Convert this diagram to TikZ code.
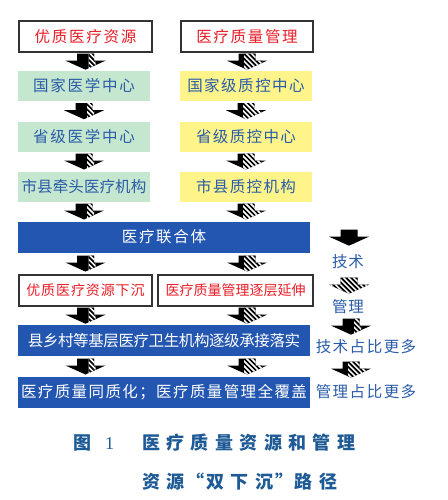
\documentclass[tikz,border=0pt]{standalone}
\usepackage{fontspec}
\usetikzlibrary{calc}
\newfontfamily\cjk{Noto Sans CJK SC}
\newlength\cjkgap
\makeatletter
\count@="4E00
\loop
  \XeTeXcharclass\count@=10
  \advance\count@ by 1
\ifnum\count@<"A000 \repeat
\makeatother
\XeTeXcharclass"FF1B=10
\XeTeXinterchartoks 10 10 {\hskip\cjkgap\relax}
\XeTeXinterchartokenstate=1
\newcommand\gaptext[2]{\setlength\cjkgap{#1}#2}
\definecolor{cgreen}{RGB}{197,230,207}
\definecolor{cyellow}{RGB}{254,244,138}
\definecolor{cblue}{RGB}{35,86,176}
\definecolor{ctext}{RGB}{42,92,168}
\definecolor{cred}{RGB}{232,30,40}
\definecolor{ccap}{RGB}{30,90,150}
\begin{document}
\begin{tikzpicture}[x=1pt,y=1pt,
  base/.style={inner sep=0pt, font=\cjk\fontsize{15.5}{16}\selectfont},
  redbox/.style={base, draw=black!80, line width=1.2pt, fill=white, text=cred, minimum height=31pt},
  greenbox/.style={base, fill=cgreen, text=ctext, minimum width=132pt, minimum height=30pt},
  yellowbox/.style={base, fill=cyellow, text=ctext, minimum width=132pt, minimum height=30pt},
  bluebox/.style={base, fill=cblue, text=white, minimum width=292pt, minimum height=31pt},
  legtext/.style={base, text=ctext},
  captext/.style={inner sep=0pt, anchor=west, text=ccap, font=\cjk\bfseries\fontsize{18}{18}\selectfont},
  pics/barrow/.style n args={2}{code={
    \fill[black] (-8.5,8)--(8.5,8)--(8.5,1)--(20,1)--(0,-8)--(-20,1)--(-8.5,1)--cycle;
    \begin{scope}
      \clip (-8.5,8)--(8.5,8)--(8.5,1)--(20,1)--(0,-8)--(-20,1)--(-8.5,1)--cycle;
      \clip (#1,9) rectangle (#2,-9);
      \fill[white] (-21,9) rectangle (21,-9);
      \foreach \k in {-40,-35,...,40} \draw[line width=1.7pt] (\k-10,10)--(\k+10,-10);
    \end{scope}
  }}]
\fill[white] (0,0) rectangle (447,-500);
\useasboundingbox (0,0) rectangle (447,-500);

% top boxes
\node[redbox, minimum width=133pt] (r1) at (85.5,-36.5) {\gaptext{1.8pt}{优质医疗资源}};
\node[redbox, minimum width=132pt] (r2) at (247,-36.5) {\gaptext{1.7pt}{医疗质量管理}};
\node[greenbox] (g1) at (84,-86) {\gaptext{1.8pt}{国家医学中心}};
\node[greenbox] (g2) at (84,-136.5) {\gaptext{1.8pt}{省级医学中心}};
\node[greenbox] (g3) at (84,-186.5) {\gaptext{0.1pt}{市县牵头医疗机构}};
\node[yellowbox] (y1) at (246,-86) {\gaptext{1.5pt}{国家级质控中心}};
\node[yellowbox] (y2) at (246,-136.5) {\gaptext{1.4pt}{省级质控中心}};
\node[yellowbox] (y3) at (246,-186.5) {\gaptext{1.4pt}{市县质控机构}};
\node[bluebox] (b1) at (164,-237) {\gaptext{1.7pt}{医疗联合体}};
\node[redbox, minimum width=133pt, font=\cjk\fontsize{14}{14}\selectfont] (d1) at (85.5,-290.5) {\gaptext{0.9pt}{优质医疗资源下沉}};
\node[redbox, minimum width=155pt, font=\cjk\fontsize{14}{14}\selectfont] (d2) at (235.5,-290.5) {\gaptext{0pt}{医疗质量管理逐层延伸}};
\node[bluebox] (b2) at (164,-340.5) {\gaptext{-0.4pt}{县乡村等基层医疗卫生机构逐级承接落实}};
\node[bluebox] (b3) at (164,-392.5) {\gaptext{1.4pt}{医疗质量同质化；医疗质量管理全覆盖}};

% column arrows
\pic at ($(r1.south)!0.5!(r1.south|-g1.north)$) {barrow={3}{10}};
\pic at ($(g1.south)!0.5!(g1.south|-g2.north)$) {barrow={3}{10}};
\pic at ($(g2.south)!0.5!(g2.south|-g3.north)$) {barrow={3}{10}};
\pic at ($(g3.south)!0.5!(g3.south|-b1.north)$) {barrow={3}{10}};
\pic at ($(r1.south|-b1.south)!0.5!(r1.south|-d1.north)$) {barrow={3}{10}};
\pic at ($(r1.south|-d1.south)!0.5!(r1.south|-b2.north)$) {barrow={3}{10}};
\pic at ($(r1.south|-b2.south)!0.5!(r1.south|-b3.north)$) {barrow={3}{10}};
\pic at ($(r2.south)!0.5!(r2.south|-y1.north)$) {barrow={-3}{15}};
\pic at ($(y1.south)!0.5!(y1.south|-y2.north)$) {barrow={-3}{15}};
\pic at ($(y2.south)!0.5!(y2.south|-y3.north)$) {barrow={-3}{15}};
\pic at ($(y3.south)!0.5!(y3.south|-b1.north)$) {barrow={-3}{15}};
\pic at ($(r2.south|-b1.south)!0.5!(r2.south|-d2.north)$) {barrow={-3}{15}};
\pic at ($(r2.south|-d2.south)!0.5!(r2.south|-b2.north)$) {barrow={-3}{15}};
\pic at ($(r2.south|-b2.south)!0.5!(r2.south|-b3.north)$) {barrow={-3}{15}};

% legend
\node[legtext] (lt) at (348,-262) {\gaptext{1pt}{技术}};
\node[legtext] (lm) at (348,-307) {\gaptext{1pt}{管理}};
\node[legtext] (ltm) at (366,-347) {\gaptext{1.5pt}{技术占比更多}};
\node[legtext] (lmm) at (366,-392) {\gaptext{1.5pt}{管理占比更多}};
\pic at ($(lt.north)+(1,17)$) {barrow={30}{31}};
\pic at ($(lm.north)+(1,14)$) {barrow={-25}{25}};
\pic at ($(ltm.north-|lt.north)+(3,13)$) {barrow={3}{10}};
\pic at ($(lmm.north-|lt.north)+(3,15)$) {barrow={-3}{15}};

% caption
\node[captext] (cap1) at (73,-443) {\gaptext{6.4pt}{图\hspace{14pt}{\mdseries\fontspec{Liberation Serif}1}\hspace{28pt}医疗质量资源和管理}};
\node[captext] (cap2) at (142,-482) {\gaptext{6.4pt}{资源\hspace{1.9pt}“\hspace{1.9pt}双下沉\hspace{1.9pt}”\hspace{1.9pt}路径}};
\end{tikzpicture}
\end{document}
